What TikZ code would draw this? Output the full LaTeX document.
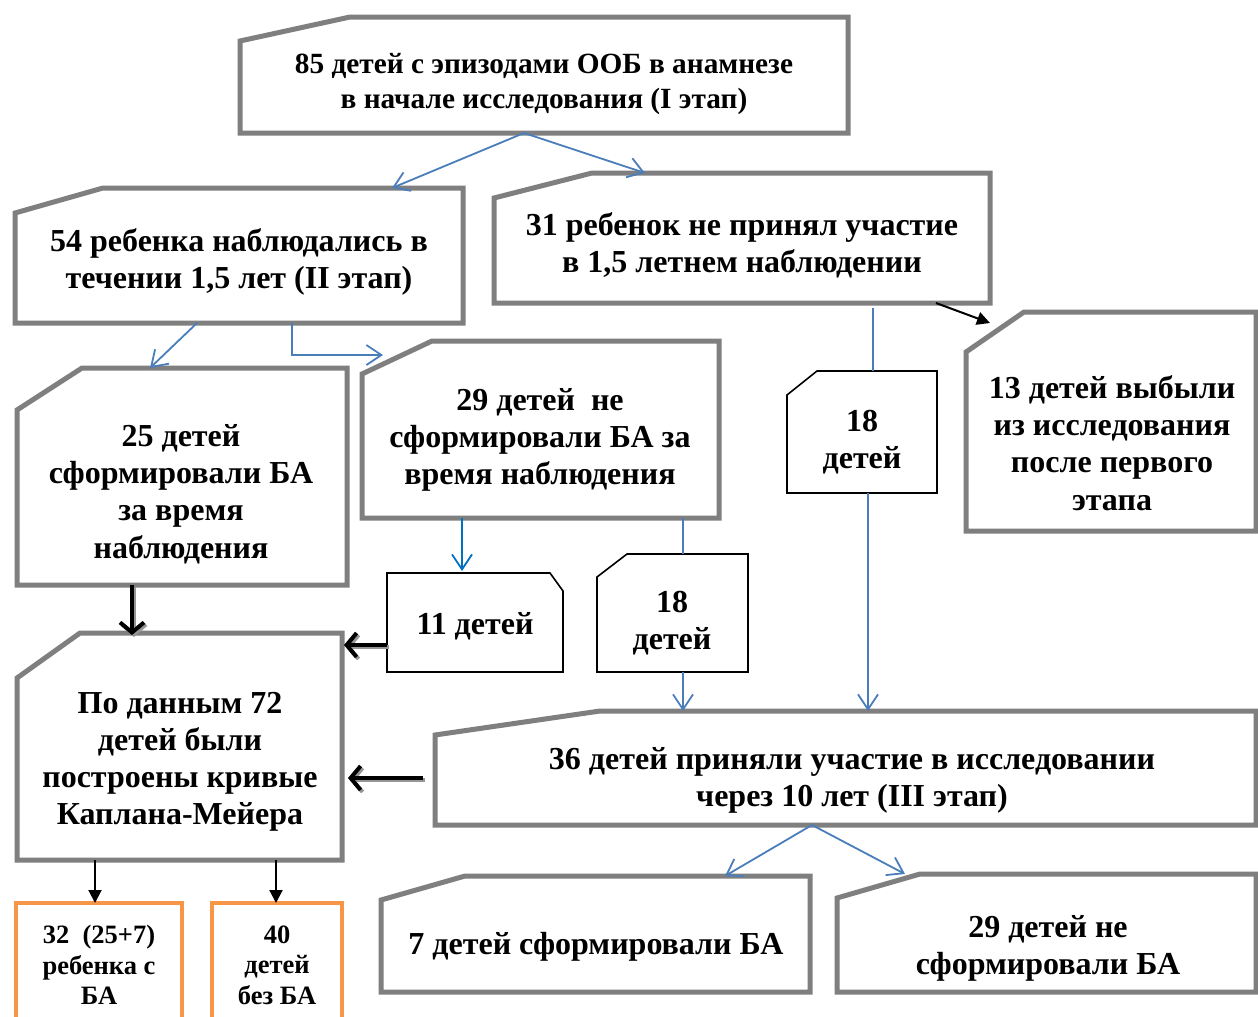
\documentclass[tikz,border=0pt]{standalone}
\usepackage{fontspec}
\setmainfont{Liberation Serif}
\usetikzlibrary{arrows.meta}
\definecolor{boxgrey}{RGB}{127,127,127}
\definecolor{arrowblue}{RGB}{74,126,187}
\definecolor{arrowbluetwo}{RGB}{0,112,192}
\definecolor{boxorange}{RGB}{247,150,70}
\definecolor{shadowgrey}{RGB}{150,150,150}
\newcommand\bigfnt{\fontsize{32}{37.2}\selectfont\bfseries}
\newcommand\topfnt{\fontsize{29.3}{35}\selectfont\bfseries}
\newcommand\smallfnt{\fontsize{26.5}{30.5}\selectfont\bfseries}
\newcommand\snipbox[8]{%
  \path[#1] (#3+#7,#4) -- (#5,#4) -- (#5,#6) -- (#3,#6) -- (#3,#4+#8) -- cycle;
  \node[frame, minimum width={#5-#3}, minimum height={#6-#4}] (#2) at ({(#3+#5)/2},{(#4+#6)/2}) {};
}
\newcommand\shadowarrow[2]{%
  \draw[thickarrow, draw=shadowgrey, transform canvas={xshift=2pt,yshift=-2pt}] #1 -- #2;
  \draw[thickarrow] #1 -- #2;
}
\tikzset{
  gline/.style={draw=boxgrey, line width=5pt, fill=white, line join=miter},
  kline/.style={draw=black, line width=1.6pt, fill=white, line join=miter},
  oline/.style={draw=boxorange, line width=4pt, fill=white},
  frame/.style={draw=none, inner sep=0pt, outer sep=0pt},
  txt/.style={align=center, font=\bigfnt, inner sep=0pt},
  toptxt/.style={align=center, font=\topfnt, inner sep=0pt},
  stxt/.style={align=center, font=\smallfnt, inner sep=0pt},
  barrow/.style={draw=arrowblue, line width=1.8pt, -{Straight Barb[length=15pt,width=20pt]}},
  bline/.style={draw=arrowblue, line width=1.8pt},
  karrow/.style={draw=black, line width=2pt, -{Triangle[length=13pt,width=13pt]}},
  thickarrow/.style={draw=black, line width=4pt, -{Straight Barb[length=10pt,width=24pt]}},
}
\begin{document}
\begin{tikzpicture}[x=1pt,y=-1pt]
\useasboundingbox[fill=white] (0,0) rectangle (1258,1017);

% boxes
\snipbox{gline}{top}{240}{17}{848}{133}{110}{24}
\snipbox{gline}{bA}{15}{188}{463}{323}{88}{25}
\snipbox{gline}{bB}{494}{173}{990}{303}{98}{25}
\snipbox{gline}{bC}{966}{312}{1256}{531}{58}{40}
\snipbox{gline}{bD}{17}{368}{347}{585}{65}{42}
\snipbox{gline}{bE}{362}{341}{719}{518}{70}{33}
\snipbox{kline}{bF}{787}{371}{937}{493}{30}{24}
\path[kline] (387,573) -- (550,573) -- (563,591) -- (563,672) -- (387,672) -- cycle;
\node[frame, minimum width=176, minimum height=99] (bG) at (475,622.5) {};
\snipbox{kline}{bH}{597}{554}{748}{672}{30}{23}
\snipbox{gline}{bI}{17}{633}{342}{860}{63}{45}
\snipbox{gline}{bJ}{435}{711}{1256}{825}{165}{24}
\path[oline] (16,903) rectangle (182,1022);
\node[frame, minimum width=166, minimum height=119] (bK) at (99,962.5) {};
\path[oline] (212,903) rectangle (342,1022);
\node[frame, minimum width=130, minimum height=119] (bL) at (277,962.5) {};
\snipbox{gline}{bM}{381}{876}{810}{992}{84}{24}
\snipbox{gline}{bN}{837}{874}{1256}{992}{83}{24}

% texts
\node[toptxt] (tTop) at (544,84) {85 детей с эпизодами ООБ в анамнезе\\в начале исследования (I этап)};
\node[txt] (tA) at (239,262) {54 ребенка наблюдались в\\течении 1,5 лет (II этап)};
\node[txt] (tB) at (742,245) {31 ребенок не принял участие\\в 1,5 летнем наблюдении};
\node[txt] (tC) at (1112,443) {13 детей выбыли\\из исследования\\после первого\\этапа};
\node[txt] (tD) at (181,494) {25 детей\\сформировали БА\\за время\\наблюдения};
\node[txt] (tE) at (540,440) {29 детей~~не\\сформировали БА за\\время наблюдения};
\node[txt] (tF) at (862,442) {18\\детей};
\node[txt] (tG) at (475,626) {11 детей};
\node[txt] (tH) at (672,623) {18\\детей};
\node[txt] (tI) at (180,762) {По данным 72\\детей были\\построены кривые\\Каплана-Мейера};
\node[txt] (tJ) at (852,780) {36 детей приняли участие в исследовании\\через 10 лет (III этап)};
\node[stxt] (tK) at (99,965) {32~~(25+7)\\ребенка с\\БА};
\node[stxt] (tL) at (277,965) {40\\детей\\без БА};
\node[txt] (tM) at (596,947) {7 детей сформировали БА};
\node[txt] (tN) at (1048,948) {29 детей не\\сформировали БА};

% connectors
\coordinate (eArrowA) at (383,355);
\coordinate (eArrowB) at (990,323);
\draw[barrow] ([xshift=-20pt]top.south) -- ([xshift=153pt]bA.north);
\draw[barrow] ([xshift=-20pt]top.south) -- ([xshift=-97pt]bB.north);
\draw[barrow] ([xshift=-42pt]bA.south) -- ([xshift=-32pt]bD.north);
\draw[barrow] ([xshift=53pt]bA.south) |- (eArrowA);
\draw[karrow] ([xshift=194pt]bB.south) -- (eArrowB);
\draw[bline] ([xshift=131pt,yshift=-5pt]bB.south) -- ([xshift=11pt]bF.north);
\draw[barrow] ([xshift=6pt]bF.south) -- ([xshift=22.5pt]bJ.north);
\draw[barrow, draw=arrowbluetwo] ([xshift=-78.5pt]bE.south) -- ([xshift=-13pt,yshift=2pt]bG.north);
\draw[bline] ([xshift=142.5pt]bE.south) -- ([xshift=10.5pt]bH.north);
\draw[barrow] ([xshift=10.5pt]bH.south) -- ([xshift=-162.5pt]bJ.north);
\shadowarrow{([xshift=-50pt]bD.south)}{([xshift=-47.5pt,yshift=-2pt]bI.north)}
\shadowarrow{([yshift=-22.5pt]bG.west)}{([yshift=101.5pt,xshift=2pt]bI.east)}
\shadowarrow{([xshift=-12pt,yshift=-10pt]bJ.west)}{([yshift=-31.5pt,xshift=6pt]bI.east)}
\draw[karrow] ([xshift=-84.5pt]bI.south) -- ([xshift=-4pt]bK.north);
\draw[karrow] ([xshift=96.5pt]bI.south) -- ([xshift=-1pt]bL.north);
\draw[barrow] ([xshift=-33.5pt]bJ.south) -- ([xshift=129.5pt]bM.north);
\draw[barrow] ([xshift=-33.5pt]bJ.south) -- ([xshift=-141.5pt]bN.north);
\end{tikzpicture}
\end{document}
